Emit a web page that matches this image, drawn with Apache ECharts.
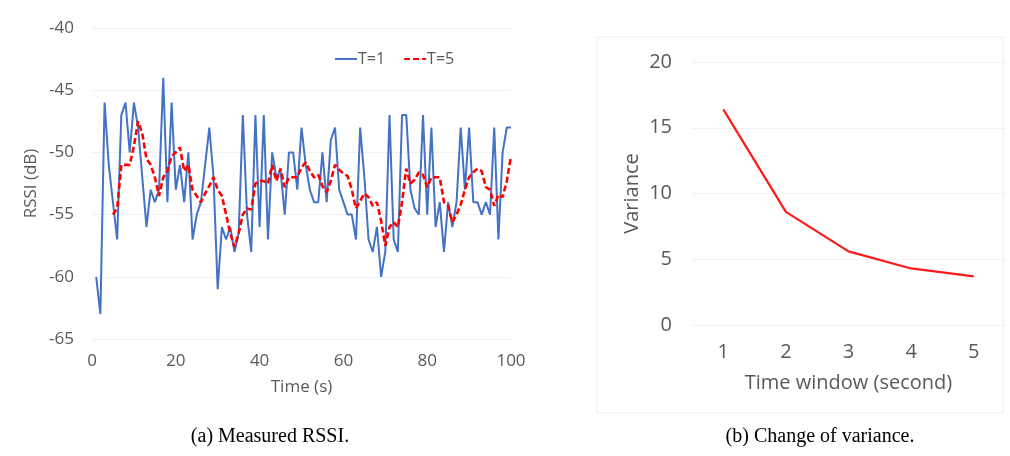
<!DOCTYPE html>
<html>
<head>
<meta charset="utf-8">
<script src="https://cdn.jsdelivr.net/npm/echarts@6/dist/echarts.min.js"></script>
<style>
html,body{margin:0;padding:0;background:#fff;}
#c{width:1010px;height:456px;}
</style>
</head>
<body>
<div id="c"></div>
<script>
// ---- Chart (a): measured RSSI ----
const timeSec = [];
for (let i = 1; i <= 100; i++) timeSec.push(i);
const rssiT1 = [
 -60,-63,-46,-51,-54,-57,-47,-46,-50,-46,
 -48,-52,-56,-53,-54,-53,-44,-54,-46,-53,
 -51,-54,-50,-57,-55,-54,-51,-48,-52,-61,
 -56,-57,-56,-58,-56.5,-47,-55,-58,-47,-56,
 -47,-57,-50,-52,-51.5,-55,-50,-50,-53,-48,
 -51,-53,-54,-54,-50,-54,-49,-48,-53,-54,
 -55,-55,-57,-48,-52,-57,-58,-56,-60,-58,
 -47,-57,-58,-47,-47,-53,-54.5,-55,-47,-55,
 -48,-56,-54,-58,-54,-56,-54,-48,-53,-48,
 -54,-54,-55,-54,-55,-48,-57,-50,-48,-48
];
const rssiT5 = [
 null,null,null,null,
 -55,-54.5,-51,-51,-51,-49.5,-47.5,-48.5,-50.5,-51,
 -52,-53.5,-52,-51.5,-50.3,-50,-49.6,-51.5,-51,-53,
 -53.5,-54,-53.3,-52.7,-52,-53,-53.5,-55,-56.5,-57.6,
 -56.5,-55,-54.5,-54.6,-52.5,-52.3,-52.3,-52.5,-51,-52.3,
 -51.3,-52.8,-52,-52,-52,-51.2,-50.8,-51.5,-52,-51.8,
 -52.7,-53.2,-52.3,-51,-51.4,-51.7,-51.9,-53,-54.5,-53.9,
 -53.3,-53.6,-54.3,-54,-55.5,-57.5,-56,-55.6,-56,-54,
 -51.3,-52.5,-52.2,-51.6,-51.8,-52.8,-52,-52,-52,-54,
 -54.3,-55.6,-55,-54.2,-53,-52,-51.6,-51.3,-51.5,-52.8,
 -53,-54.3,-53.4,-53.6,-52.3,-50.3
];
const seriesNames = ['T=1', 'T=5'];

// ---- Chart (b): change of variance ----
const windowCats = ['1', '2', '3', '4', '5'];
const varianceVals = [16.4, 8.6, 5.6, 4.3, 3.7];

const captions = ['(a) Measured RSSI.', '(b) Change of variance.'];

const FONT = '"Open Sans", "Liberation Sans", sans-serif';
const TXT = '#595959';

const pairs = (xs, ys) => xs.map((x, i) => [x, ys[i]]);

const chart = echarts.init(document.getElementById('c'), null, {renderer: 'canvas'});
chart.setOption({
  animation: false,
  backgroundColor: '#fff',
  textStyle: {fontFamily: FONT, color: TXT},
  grid: [
    {left: 92, right: 499, top: 28, bottom: 117},
    {left: 692, right: 5, top: 62, bottom: 131}
  ],
  legend: {
    data: seriesNames,
    left: 329, top: 46,
    itemWidth: 22, itemHeight: 14, itemGap: 18,
    itemStyle: {opacity: 0},
    textStyle: {fontFamily: FONT, fontSize: 16, color: TXT, padding: [0, 0, 0, -4]}
  },
  xAxis: [
    {
      gridIndex: 0, type: 'value', min: 0, max: 100, interval: 20,
      axisLine: {show: false}, axisTick: {show: false},
      splitLine: {show: false},
      axisLabel: {fontFamily: FONT, fontSize: 17, color: TXT, margin: 14},
      name: 'Time (s)', nameLocation: 'middle', nameGap: 40,
      nameTextStyle: {fontFamily: FONT, fontSize: 17, color: TXT}
    },
    {
      gridIndex: 1, type: 'category', data: windowCats, boundaryGap: true,
      axisLine: {show: false}, axisTick: {show: false},
      axisLabel: {fontFamily: FONT, fontSize: 20, color: TXT, margin: 17},
      name: 'Time window (second)', nameLocation: 'middle', nameGap: 48,
      nameTextStyle: {fontFamily: FONT, fontSize: 20, color: TXT}
    }
  ],
  yAxis: [
    {
      gridIndex: 0, type: 'value', min: -65, max: -40, interval: 5,
      axisLine: {show: false}, axisTick: {show: false},
      splitLine: {show: true, lineStyle: {color: '#f1f1f1', width: 1}},
      axisLabel: {fontFamily: FONT, fontSize: 17, color: TXT, margin: 18},
      name: 'RSSI (dB)', nameLocation: 'middle', nameGap: 52, nameRotate: 90,
      nameTextStyle: {fontFamily: FONT, fontSize: 17, color: TXT}
    },
    {
      gridIndex: 1, type: 'value', min: 0, max: 20, interval: 5,
      axisLine: {show: false}, axisTick: {show: false},
      splitLine: {show: true, lineStyle: {color: '#f1f1f1', width: 1}},
      axisLabel: {fontFamily: FONT, fontSize: 20, color: TXT, margin: 20},
      name: 'Variance', nameLocation: 'middle', nameGap: 50, nameRotate: 90,
      nameTextStyle: {fontFamily: FONT, fontSize: 20, color: TXT}
    }
  ],
  series: [
    {
      name: seriesNames[0], type: 'line', xAxisIndex: 0, yAxisIndex: 0,
      data: pairs(timeSec, rssiT1), symbol: 'none',
      lineStyle: {color: '#4472c4', width: 2},
      itemStyle: {color: '#4472c4'}, z: 2
    },
    {
      name: seriesNames[1], type: 'line', xAxisIndex: 0, yAxisIndex: 0,
      data: pairs(timeSec, rssiT5), symbol: 'none',
      lineStyle: {color: '#ff0000', width: 2.6, type: [6, 3]},
      itemStyle: {color: '#ff0000'}, z: 3
    },
    {
      name: 'Variance', type: 'line', xAxisIndex: 1, yAxisIndex: 1,
      data: varianceVals, symbol: 'none',
      lineStyle: {color: '#ff1a1a', width: 2.2},
      itemStyle: {color: '#ff1a1a'}
    }
  ],
  graphic: [
    {type: 'rect', shape: {x: 597, y: 37, width: 406, height: 376},
     style: {fill: 'none', stroke: '#ececec', lineWidth: 1}, silent: true, z: -1},
    {type: 'text', x: 270, y: 437,
     style: {text: captions[0], font: '20px "Liberation Serif", "Times New Roman", serif',
             fill: '#000', textAlign: 'center', textVerticalAlign: 'middle'}},
    {type: 'text', x: 820, y: 437,
     style: {text: captions[1], font: '20px "Liberation Serif", "Times New Roman", serif',
             fill: '#000', textAlign: 'center', textVerticalAlign: 'middle'}}
  ]
});
</script>
</body>
</html>
